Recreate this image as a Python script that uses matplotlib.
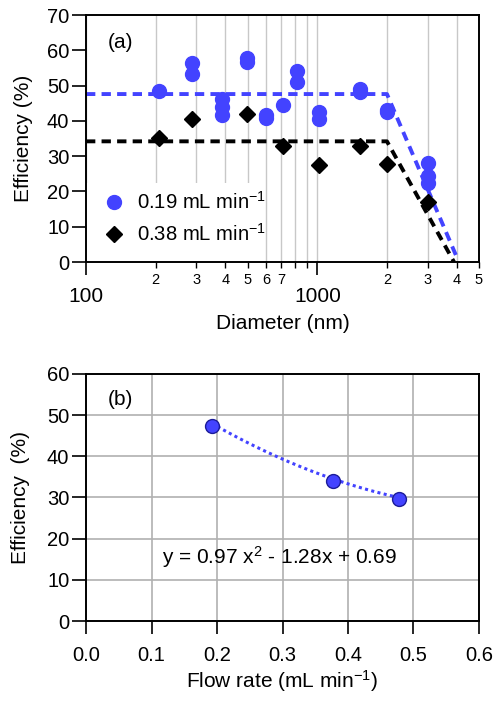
import numpy as np
import matplotlib
matplotlib.use("Agg")
import matplotlib.pyplot as plt
from matplotlib.ticker import FixedLocator, FixedFormatter
from matplotlib.patches import Rectangle

plt.rcParams['font.family'] = ['Liberation Sans', 'DejaVu Sans']
plt.rcParams['mathtext.fontset'] = 'custom'
plt.rcParams['mathtext.rm'] = 'Liberation Sans'
plt.rcParams['mathtext.it'] = 'Liberation Sans:italic'

# ---- data panel (a) ----
d_019 = [207, 287, 287, 389, 389, 389, 499, 499, 600, 600, 708, 813, 813,
         1020, 1020, 1536, 1536, 2003, 2003, 3013, 3013, 3013]
e_019 = [48.5, 56.5, 53.4, 46.2, 43.8, 41.6, 57.9, 56.8, 41.6, 40.9, 44.5, 54.1, 51.1,
         42.6, 40.5, 48.9, 48.3, 43.0, 42.4, 28.0, 24.4, 22.3]
d_038 = [207, 287, 499, 708, 1020, 1536, 2003, 3013]
e_038 = [35.2, 40.6, 41.9, 32.9, 27.4, 33.0, 27.9, 17.1]
fit_019_x = [100, 2000, 4000]
fit_019_y = [47.6, 47.6, 1.5]
fit_038_x = [100, 2000, 3900]
fit_038_y = [34.2, 34.2, 0.0]
minor_ticks = [200, 300, 400, 500, 600, 700, 800, 900, 2000, 3000, 4000, 5000]
minor_labels = ['2', '3', '4', '5', '6', '7', '', '', '2', '3', '4', '5']

# ---- data panel (b) ----
flow = [0.1924, 0.3776, 0.478]
eff = [47.4, 34.1, 29.6]
poly_coef = [97.0, -128.0, 69.0]  # y(%) = 0.97x^2 - 1.28x + 0.69 (fraction)

blue = '#4343ff'
grid_c = '#c8c8c8'

fig = plt.figure(figsize=(5.0, 7.01), dpi=100)
ax1 = fig.add_axes([0.172, 0.6262, 0.786, 0.3524])
ax2 = fig.add_axes([0.172, 0.1141, 0.786, 0.3524])

# ---- panel (a) ----
ax1.set_xscale('log')
ax1.set_xlim(100, 5000)
ax1.set_ylim(0, 70)
ax1.set_axisbelow(True)
ax1.xaxis.set_major_locator(FixedLocator([100, 1000]))
ax1.xaxis.set_major_formatter(FixedFormatter(['100', '1000']))
ax1.xaxis.set_minor_locator(FixedLocator(minor_ticks))
ax1.xaxis.set_minor_formatter(FixedFormatter(minor_labels))
ax1.set_yticks(np.arange(0, 71, 10))
ax1.grid(True, which='both', axis='x', color=grid_c, lw=1.0)
ax1.tick_params(axis='x', which='major', direction='out', length=9, width=1.2,
                pad=9, labelsize=15)
ax1.tick_params(axis='x', which='minor', direction='out', length=4, width=1.0,
                pad=4, labelsize=10.5)
ax1.tick_params(axis='y', direction='out', length=10, width=1.2, labelsize=14.5, pad=2)

ax1.add_patch(Rectangle((0, 0), 0.455, 0.32, transform=ax1.transAxes,
                        facecolor='white', edgecolor='none', zorder=1))

ax1.plot(fit_019_x, fit_019_y, ls=(0, (2.4, 1.6)), color=blue, lw=2.8, zorder=2)
ax1.plot(fit_038_x, fit_038_y, ls=(0, (2.4, 1.6)), color='black', lw=2.8, zorder=2)
ax1.plot(d_019, e_019, 'o', color=blue, ms=10, mec=blue, zorder=3,
         label='0.19 mL min$^{-1}$')
ax1.plot(d_038, e_038, 'D', color='black', ms=8.3, zorder=3,
         label='0.38 mL min$^{-1}$')
ax1.legend(loc='lower left', bbox_to_anchor=(0.0, 0.012), frameon=False,
           fontsize=14.6, handletextpad=0.4, labelspacing=0.5, handlelength=1.4,
           borderaxespad=0.3)
ax1.text(0.055, 0.89, '(a)', transform=ax1.transAxes, fontsize=15, va='center')
ax1.set_xlabel('Diameter (nm)', fontsize=15, labelpad=6)
ax1.set_ylabel('Efficiency (%)', fontsize=15, labelpad=10)
for s in ax1.spines.values():
    s.set_linewidth(1.4)

# ---- panel (b) ----
ax2.set_xlim(0, 0.6)
ax2.set_ylim(0, 60)
ax2.set_axisbelow(True)
ax2.set_xticks(np.arange(0, 0.61, 0.1))
ax2.set_xticklabels(['%.1f' % v for v in np.arange(0, 0.61, 0.1)])
ax2.set_yticks(np.arange(0, 61, 10))
ax2.grid(True, color='#b0b0b0', lw=1.2)
ax2.tick_params(axis='x', direction='out', length=9, width=1.2, labelsize=14.5, pad=9)
ax2.tick_params(axis='y', direction='out', length=10, width=1.2, labelsize=14.5, pad=2)
xf = np.linspace(flow[0], flow[-1], 60)
ax2.plot(xf, np.polyval(poly_coef, xf), ls=(0, (1, 1.1)), color=blue, lw=2.2, zorder=2)
ax2.plot(flow, eff, 'o', color=blue, mec='#1c1c99', ms=10, mew=1.0, zorder=3)
ax2.text(0.295, 15.6, 'y = 0.97 x$^{2}$ - 1.28x + 0.69', fontsize=15,
         ha='center', va='center')
ax2.text(0.055, 0.895, '(b)', transform=ax2.transAxes, fontsize=15, va='center')
ax2.set_xlabel('Flow rate (mL min$^{-1}$)', fontsize=15, labelpad=2)
ax2.set_ylabel('Efficiency  (%)', fontsize=15, labelpad=12)
for s in ax2.spines.values():
    s.set_linewidth(1.4)

fig.savefig('out.png', dpi=100)
